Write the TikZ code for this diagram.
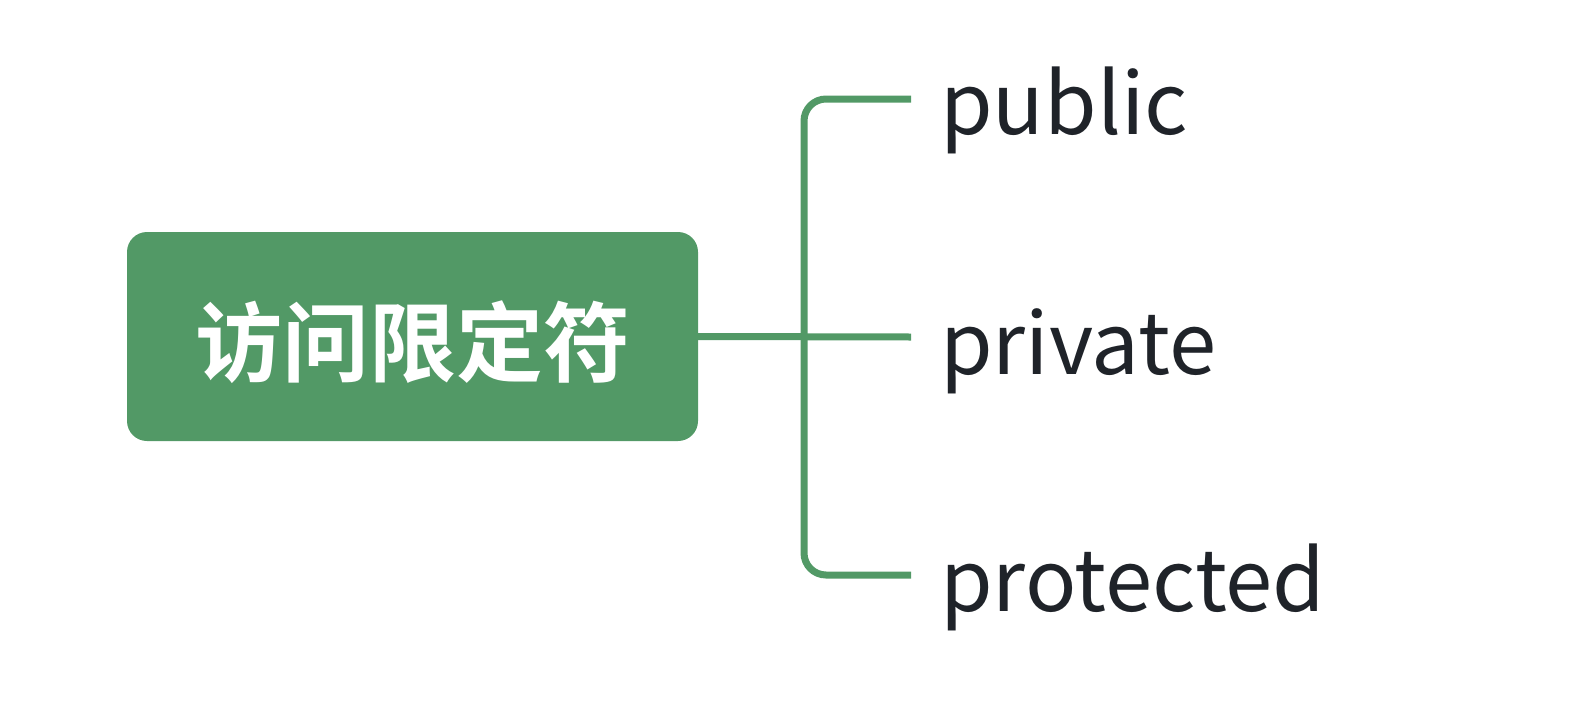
\documentclass[tikz,border=0pt]{standalone}
\usepackage{fontspec}
\newfontfamily\cjk{Noto Sans CJK SC}
\newfontfamily\cjkbold{Noto Sans CJK SC Bold}
\definecolor{mmgreen}{RGB}{82,153,102}
\definecolor{mmtext}{RGB}{31,35,41}
\begin{document}
\begin{tikzpicture}[x=1pt,y=-1pt,
  rootbox/.style={fill=mmgreen,rounded corners=20pt,minimum width=571pt,minimum height=209pt,inner sep=0pt,text=white,font=\cjkbold\fontsize{87}{90}\selectfont},
  leaf/.style={anchor=base west,inner sep=0pt,text=mmtext,font=\cjk\fontsize{85}{100}\selectfont},
  conn/.style={draw=mmgreen,line width=7pt}]
\useasboundingbox (0,0) rectangle (1595,707);
\node[rootbox] (root) at (412.5,336.5) {\raisebox{-6pt}[\height][\depth]{访问限定符}};
\coordinate (j) at (804,337);
\coordinate (e1) at (911,99);
\coordinate (e2) at (911,337);
\coordinate (e3) at (911,575);
\node[leaf] (l1) at (940,134) {public};
\node[leaf] (l2) at (940,374) {private};
\node[leaf] (l3) at (940,611) {protected};
\draw[conn] (root.east) -- (e2);
\draw[conn,rounded corners=22pt] (e1) -| (j) |- (e3);
\end{tikzpicture}
\end{document}
